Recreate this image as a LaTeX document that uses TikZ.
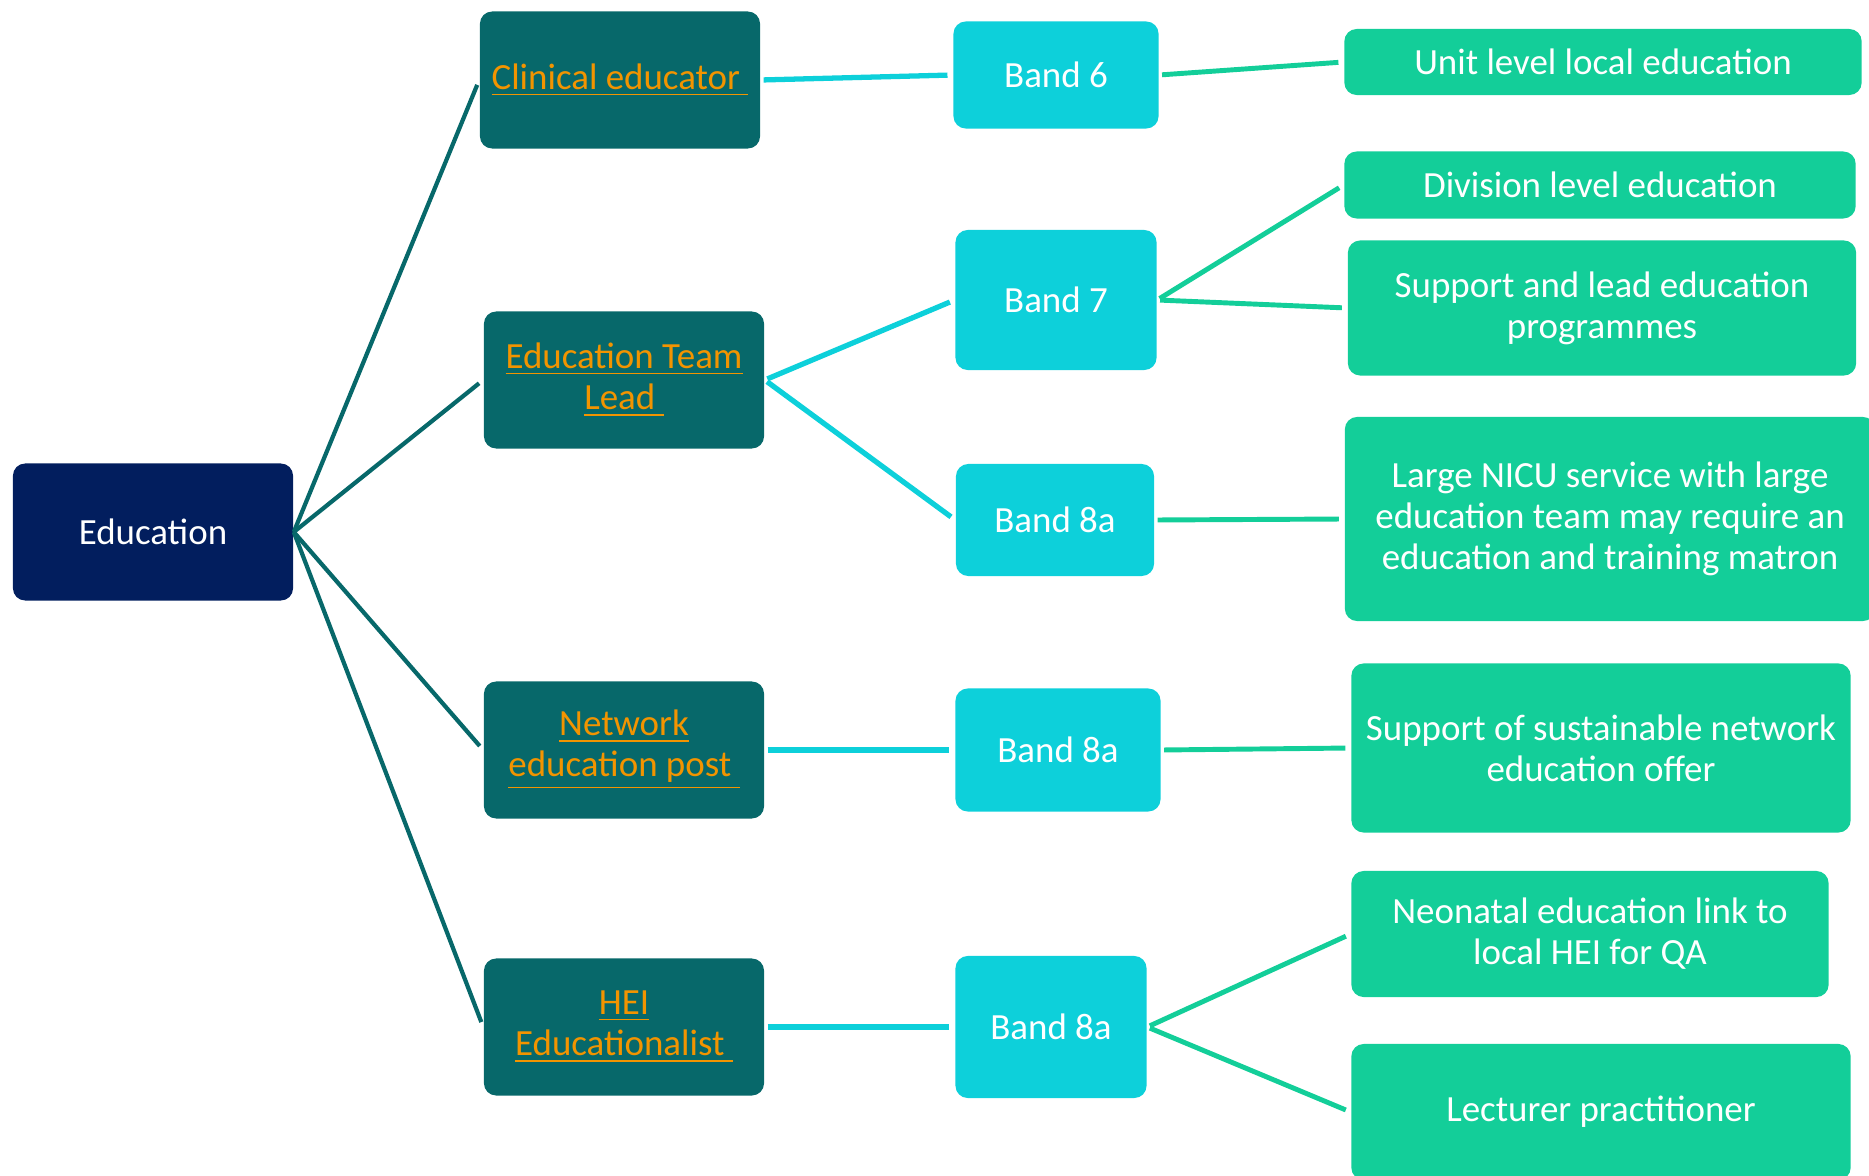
\documentclass[tikz,border=0pt]{standalone}
\usepackage{fontspec}
\setmainfont{Carlito}
\usepackage{tikz}

\definecolor{navy}{HTML}{021E5E}
\definecolor{tealbox}{HTML}{07686A}
\definecolor{orangetxt}{HTML}{F29400}
\definecolor{cyanbox}{HTML}{0DD0DA}
\definecolor{greenbox}{HTML}{13CE99}

\begin{document}
\begin{tikzpicture}[x=0.01cm,y=-0.01cm,
    every node/.style={inner sep=0pt,align=center,rounded corners=3.5pt,
      font=\fontsize{10.5}{11.7}\selectfont},
    rootbox/.style={fill=navy,text=white},
    postbox/.style={fill=tealbox,text=orangetxt,minimum width=2.8cm,minimum height=1.37cm},
    bandbox/.style={fill=cyanbox,text=white},
    rolebox/.style={fill=greenbox,text=white},
    tealline/.style={draw=tealbox,line width=1.2pt,shorten >=1.5pt},
    cyanline/.style={draw=cyanbox,line width=1.5pt,shorten <=0.8pt,shorten >=1.5pt},
    greenline/.style={draw=greenbox,line width=1.4pt,shorten <=0.8pt,shorten >=1.5pt}]
      \useasboundingbox (0,0) rectangle (1869,1176);
      \clip (0,0) rectangle (1869,1176);

      \node[rootbox,minimum width=2.8cm,minimum height=1.37cm] (1) at (153,532) {Education};

      \node[postbox] (2) at (620,80) {\underline{Clinical educator\ }};
      \node[postbox] (3) at (624,380) {\underline{Education Team}\\\underline{Lead\ }};
      \node[postbox] (4) at (624,750) {\underline{Network}\\\underline{education post\ }};
      \node[postbox] (5) at (624,1027) {\underline{HEI}\\\underline{Educationalist\ }};

      \node[bandbox,minimum width=2.05cm,minimum height=1.07cm] (6) at (1056,75) {Band 6};
      \node[bandbox,minimum width=2.01cm,minimum height=1.4cm] (7) at (1056,300) {Band 7};
      \node[bandbox,minimum width=1.98cm,minimum height=1.12cm] (8) at (1055,520) {Band 8a};
      \node[bandbox,minimum width=2.05cm,minimum height=1.23cm] (9) at (1058,750) {Band 8a};
      \node[bandbox,minimum width=1.91cm,minimum height=1.42cm] (10) at (1051,1027) {Band 8a};

      \node[rolebox,minimum width=5.17cm,minimum height=0.66cm] (11) at (1603,62) {Unit level local education};
      \node[rolebox,minimum width=5.11cm,minimum height=0.67cm] (12) at (1600,185) {Division level education};
      \node[rolebox,minimum width=5.08cm,minimum height=1.35cm] (13) at (1602,308) {Support and lead education\\programmes};
      \node[rolebox,minimum width=5.3cm,minimum height=2.04cm] (14) at (1610,519)
        {Large NICU service with large\\education team may require an\\education and training matron};
      \node[rolebox,minimum width=4.99cm,minimum height=1.69cm] (15) at (1601,748) {Support of sustainable network\\education offer};
      \node[rolebox,minimum width=4.77cm,minimum height=1.26cm] (16) at (1590,934) {Neonatal education link to\\local HEI for QA};
      \node[rolebox,minimum width=4.99cm,minimum height=1.36cm] (17) at (1601,1112) {Lecturer practitioner};

      \draw[tealline] (1.east) -- (2.west);
      \draw[tealline] (1.east) -- (3.west);
      \draw[tealline] (1.east) -- (4.west);
      \draw[tealline] (1.east) -- (5.west);

      \draw[cyanline] (2.east) -- (6.west);
      \draw[cyanline] (3.east) -- (7.west);
      \draw[cyanline] (3.east) -- (8.west);
      \draw[cyanline] (4.east) -- (9.west);
      \draw[cyanline] (5.east) -- (10.west);

      \draw[greenline] (6.east) -- (11.west);
      \draw[greenline] (7.east) -- (12.west);
      \draw[greenline] (7.east) -- (13.west);
      \draw[greenline] (8.east) -- (14.west);
      \draw[greenline] (9.east) -- (15.west);
      \draw[greenline] (10.east) -- (16.west);
      \draw[greenline] (10.east) -- (17.west);
    \end{tikzpicture}
\end{document}
